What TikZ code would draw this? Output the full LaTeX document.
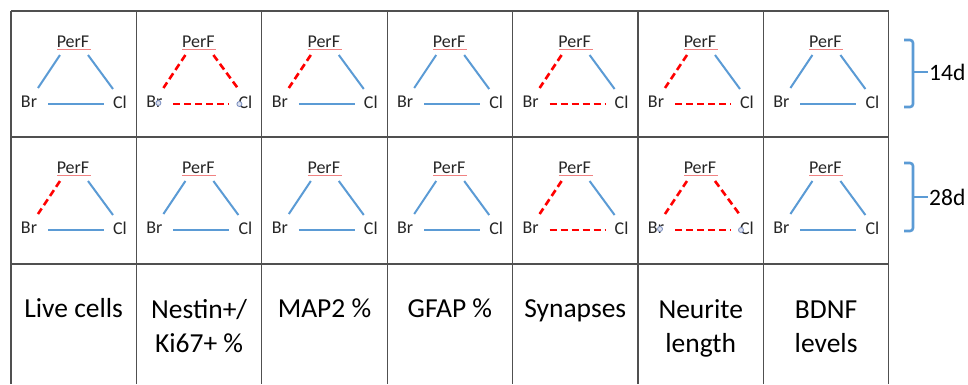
\documentclass[tikz,border=0pt]{standalone}
\usepackage{fontspec}
\setmainfont{Carlito}
\definecolor{oblue}{RGB}{91,155,213}
\definecolor{dred}{RGB}{255,0,0}
\definecolor{gridc}{RGB}{80,80,80}
\definecolor{squigc}{RGB}{240,130,130}
\definecolor{artc}{RGB}{120,140,190}
\tikzset{
  lbl/.style={inner sep=0pt, font=\fontsize{18}{20}\selectfont, text=black!85},
  sol/.style={draw=oblue, line width=2pt},
  dsh/.style={draw=dred, line width=2.6pt, dash pattern=on 7pt off 4pt},
  squig/.style={draw=squigc, line width=0.8pt},
  gridl/.style={draw=gridc, line width=1.2pt},
  artc/.style={circle, draw=artc, fill=artc!25, line width=0.8pt, minimum size=5pt, inner sep=0pt},
  biglbl/.style={inner sep=0pt, align=center, anchor=base, font=\fontsize{27.5}{34}\selectfont},
  dlbl/.style={inner sep=0pt, anchor=west, font=\fontsize{23.5}{26}\selectfont},
  bracel/.style={draw=oblue, line width=2.6pt, rounded corners=3pt}
}
\newcommand{\tricell}[6]{%
  \node[lbl] (#1p) at (#2+62,#3+31) {PerF};
  \node[lbl] (#1b) at (#2+18,#3+91) {Br};
  \node[lbl] (#1c) at (#2+109,#3+91) {Cl};
  \draw[squig] ([shift={(-16,7)}]#1p.center) -- ([shift={(18,7)}]#1p.center);
  \draw[#4] ([shift={(-13,13)}]#1p.center) -- ([shift={(9,-14)}]#1b.center);
  \draw[#5] ([shift={(15,13)}]#1p.center) -- ([shift={(-7,-13)}]#1c.center);
  \draw[#6] ([shift={(19,2)}]#1b.center) -- ([shift={(-16,2)}]#1c.center);
}
\begin{document}
\begin{tikzpicture}[x=1pt,y=-1pt]
\useasboundingbox (0,0) rectangle (968,384);
\fill[white] (0,0) rectangle (968,384);
% grid
\foreach \xx in {11,136.4,261.8,387.2,512.6,638,763.4,888.8}{
  \draw[gridl] (\xx,11) -- (\xx,384);
}
\foreach \yy in {11,137,264}{
  \draw[gridl] (11,\yy) -- (888.8,\yy);
}
% row 1 (14d)
\tricell{a1}{11}{11}{sol}{sol}{sol}
\tricell{a2}{136.4}{11}{dsh}{dsh}{dsh}
\tricell{a3}{261.8}{11}{dsh}{sol}{sol}
\tricell{a4}{387.2}{11}{sol}{sol}{sol}
\tricell{a5}{512.6}{11}{dsh}{sol}{dsh}
\tricell{a6}{638}{11}{dsh}{sol}{dsh}
\tricell{a7}{763.4}{11}{sol}{sol}{sol}
% row 2 (28d)
\tricell{b1}{11}{137}{dsh}{sol}{sol}
\tricell{b2}{136.4}{137}{sol}{sol}{sol}
\tricell{b3}{261.8}{137}{sol}{sol}{sol}
\tricell{b4}{387.2}{137}{sol}{sol}{sol}
\tricell{b5}{512.6}{137}{dsh}{sol}{dsh}
\tricell{b6}{638}{137}{dsh}{dsh}{dsh}
\tricell{b7}{763.4}{137}{sol}{sol}{sol}
% selection artefacts
\node[artc] (a2x) at ([shift={(4,1)}]a2b.center) {};
\node[artc] (a2y) at ([shift={(-6,2)}]a2c.center) {};
\node[artc] (b6x) at ([shift={(4,1)}]b6b.center) {};
\node[artc] (b6y) at ([shift={(-6,2)}]b6c.center) {};
% bottom labels
\node[biglbl] (l1) at (73.7,317) {Live cells};
\node[biglbl] (l2) at (199.1,352) {Nestin+/\\Ki67+ \%};
\node[biglbl] (l3) at (324.5,317) {MAP2 \%};
\node[biglbl] (l4) at (449.9,317) {GFAP \%};
\node[biglbl] (l5) at (575.3,317) {Synapses};
\node[biglbl] (l6) at (700.7,352) {Neurite\\length};
\node[biglbl] (l7) at (826.1,352) {BDNF\\levels};
% braces
\draw[bracel] (904,40) -- (913,40) -- (913,107) -- (904,107);
\draw[bracel] (913,72) -- (928,72);
\node[dlbl] (d14) at (929,72) {14d};
\draw[bracel] (904,163) -- (913,163) -- (913,231) -- (904,231);
\draw[bracel] (913,197) -- (928,197);
\node[dlbl] (d28) at (929,197) {28d};
\end{tikzpicture}
\end{document}
